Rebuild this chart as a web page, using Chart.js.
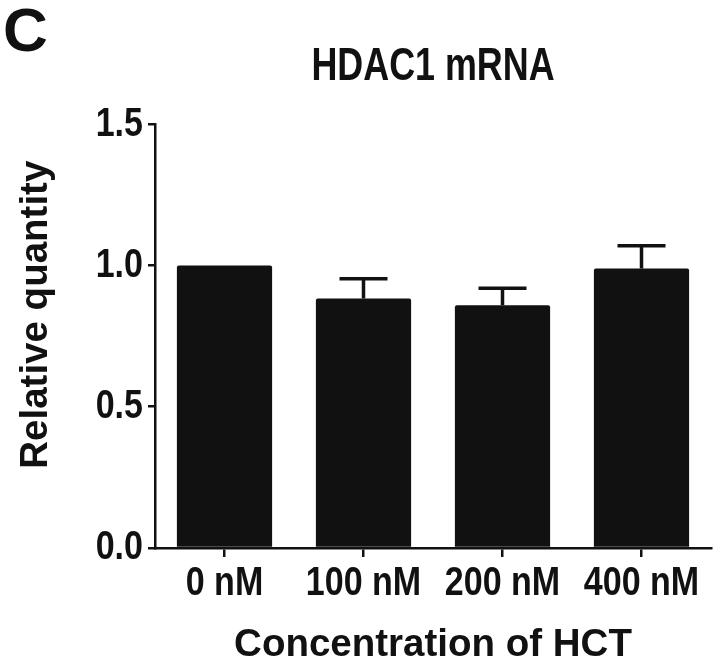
<!DOCTYPE html>
<html>
<head>
<meta charset="utf-8">
<script src="https://cdn.jsdelivr.net/npm/chart.js@4/dist/chart.umd.min.js"></script>
<style>
  html, body { margin: 0; padding: 0; background: #fff; }
  #wrap { width: 724px; height: 672px; }
</style>
</head>
<body>
<div id="wrap"><canvas id="hdacChart" width="724" height="672"></canvas></div>
<script>
const categories = ['0 nM', '100 nM', '200 nM', '400 nM'];
const meanValues = [1.0, 0.883, 0.859, 0.989];
const semValues = [0, 0.07, 0.06, 0.081];
const yTicks = [0, 0.5, 1.0, 1.5];

const ink = '#111111';
const wide = "'Liberation Sans', Arial, sans-serif";
// no narrow face installed: these names fall back to Liberation Sans and get squeezed below
const tickFace = "TickNarrow, 'Liberation Sans', Arial, sans-serif";
const titleFace = "TitleNarrow, 'Liberation Sans', Arial, sans-serif";
const squeeze = { TickNarrow: 0.83, TitleNarrow: 0.78 };

const canvas = document.getElementById('hdacChart');
const ctx2d = canvas.getContext('2d');
const plainFill = ctx2d.fillText.bind(ctx2d);
ctx2d.fillText = function (text, x, y, maxWidth) {
  const key = Object.keys(squeeze).find(k => ctx2d.font.indexOf(k) >= 0);
  if (!key) return plainFill(text, x, y, maxWidth);
  ctx2d.save();
  ctx2d.translate(x, y);
  ctx2d.scale(squeeze[key], 1);
  plainFill(text, 0, 0);
  ctx2d.restore();
};

// error bars (upper half only, like the original)
const errorBars = {
  id: 'errorBars',
  afterDatasetsDraw(chart) {
    const ctx = chart.ctx;
    const meta = chart.getDatasetMeta(0);
    const y = chart.scales.y;
    ctx.save();
    ctx.strokeStyle = ink;
    ctx.lineWidth = 3.5;
    meta.data.forEach((bar, i) => {
      if (!semValues[i]) return;
      const top = y.getPixelForValue(meanValues[i] + semValues[i]);
      ctx.beginPath();
      ctx.moveTo(bar.x, bar.y);
      ctx.lineTo(bar.x, top);
      ctx.moveTo(bar.x - 24, top);
      ctx.lineTo(bar.x + 24, top);
      ctx.stroke();
    });
    ctx.restore();
  }
};

// panel letter + title centred over the plot area
const panelLetter = {
  id: 'panelLetter',
  afterLayout(chart) {
    if (chart.titleBlock) {
      chart.titleBlock.left = chart.chartArea.left;
      chart.titleBlock.right = chart.chartArea.right;
    }
  },
  afterDraw(chart) {
    const ctx = chart.ctx;
    ctx.save();
    ctx.fillStyle = ink;
    ctx.font = 'bold 62px ' + wide;
    ctx.textBaseline = 'alphabetic';
    ctx.fillText('C', 3, 51);
    ctx.restore();
  }
};

new Chart(canvas, {
  type: 'bar',
  data: {
    labels: categories,
    datasets: [{
      data: meanValues,
      backgroundColor: ink,
      borderWidth: 0,
      borderRadius: 2,
      barPercentage: 0.685,
      categoryPercentage: 1
    }]
  },
  options: {
    responsive: false,
    animation: false,
    devicePixelRatio: 1,
    layout: { padding: { left: 0, right: 13, top: 0, bottom: 0 } },
    plugins: {
      legend: { display: false },
      tooltip: { enabled: false },
      title: {
        display: true,
        text: 'HDAC1 mRNA',
        color: ink,
        font: { family: titleFace, size: 46, weight: 'bold', lineHeight: 1.2 },
        padding: { top: 40, bottom: 29 }
      }
    },
    scales: {
      x: {
        afterFit(s) { s.height = 124; },
        border: { display: true, color: ink, width: 2.5 },
        grid: { display: true, drawOnChartArea: false, offset: false, color: ink, lineWidth: 2.5, tickLength: 9 },
        ticks: {
          color: ink,
          padding: 2,
          autoSkip: false,
          maxRotation: 0,
          minRotation: 0,
          font: { family: tickFace, size: 41, weight: 'bold' }
        },
        title: {
          display: true,
          text: 'Concentration of HCT',
          color: ink,
          font: { family: wide, size: 38.5, weight: 'bold' },
          padding: { top: 19 }
        }
      },
      y: {
        min: 0,
        max: 1.5,
        afterFit(s) { s.width = 155; },
        afterBuildTicks(s) { s.ticks = yTicks.map(v => ({ value: v })); },
        border: { display: true, color: ink, width: 2.5 },
        grid: { display: true, drawOnChartArea: false, color: ink, lineWidth: 2.5, tickLength: 7 },
        ticks: {
          color: ink,
          padding: 5,
          font: { family: tickFace, size: 41, weight: 'bold' },
          callback: v => Number(v).toFixed(1)
        },
        title: {
          display: true,
          text: '    Relative quantity',
          color: ink,
          font: { family: wide, size: 38.5, weight: 'bold' },
          padding: { top: 13 }
        }
      }
    }
  },
  plugins: [errorBars, panelLetter]
});
</script>
</body>
</html>
